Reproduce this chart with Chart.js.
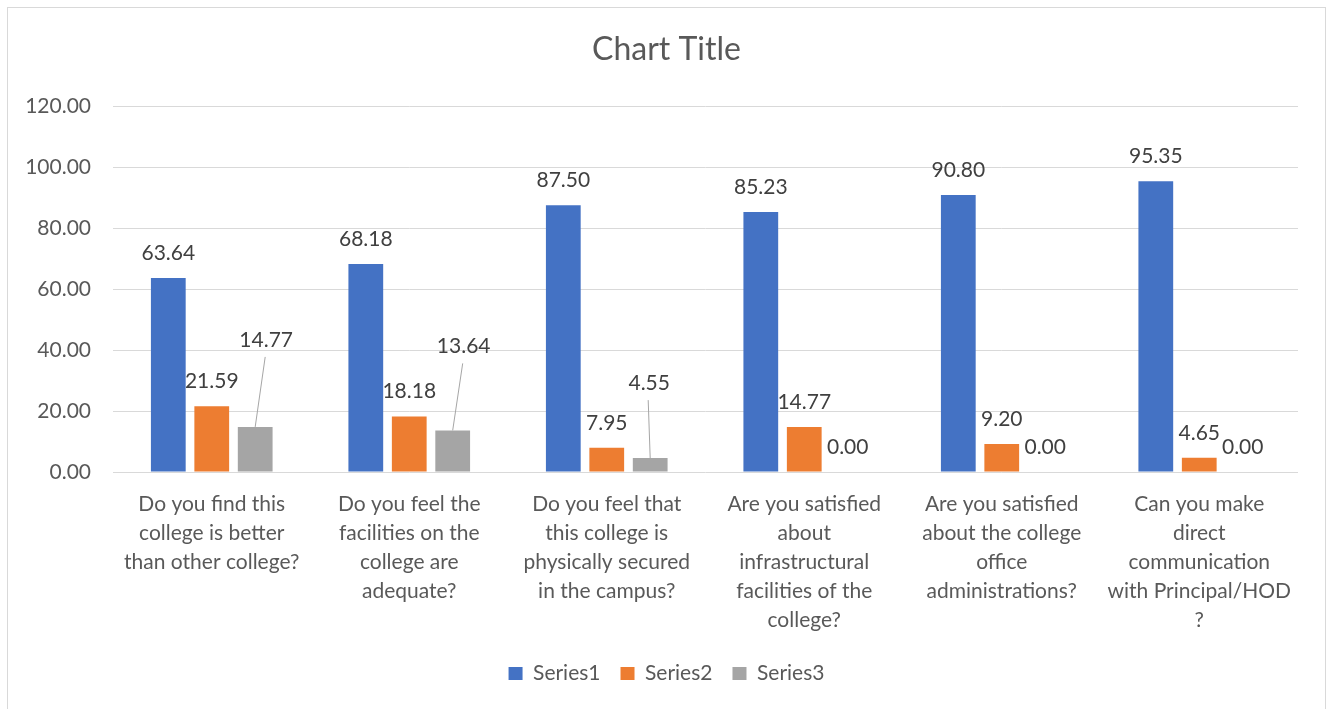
<!DOCTYPE html>
<html>
<head>
<meta charset="utf-8">
<script src="https://cdn.jsdelivr.net/npm/chart.js@4.4.1/dist/chart.umd.min.js"></script>
<style>
  html, body { margin: 0; padding: 0; background: #fff; }
  #wrap { width: 1333px; height: 709px; position: relative; }
</style>
</head>
<body>
<div id="wrap"><canvas id="chart"></canvas></div>
<script>
const categories = [
  ["Do you find this", "college is better", "than other college?"],
  ["Do you feel the", "facilities on the", "college are", "adequate?"],
  ["Do you feel that", "this college is", "physically secured", "in the campus?"],
  ["Are you satisfied", "about", "infrastructural", "facilities of the", "college?"],
  ["Are you satisfied", "about the college", "office", "administrations?"],
  ["Can you make", "direct", "communication", "with Principal/HOD", "?"]
];
const seriesNames = ["Series1", "Series2", "Series3"];
const series1 = [63.64, 68.18, 87.50, 85.23, 90.80, 95.35];
const series2 = [21.59, 18.18, 7.95, 14.77, 9.20, 4.65];
const series3 = [14.77, 13.64, 4.55, 0.00, 0.00, 0.00];
const yTicks = [0, 20, 40, 60, 80, 100, 120];
const chartTitle = "Chart Title";

const FONT = "Lato, 'Open Sans', sans-serif";

// draws value labels above bars, some pulled up with a leader line (as in the excel sheet)
const barLabels = {
  id: 'barLabels',
  afterDatasetsDraw(chart, args, opts) {
    const ctx = chart.ctx;
    ctx.save();
    ctx.font = opts.size + "px " + FONT;
    ctx.textAlign = 'center';
    ctx.textBaseline = 'middle';
    chart.data.datasets.forEach((ds, di) => {
      const meta = chart.getDatasetMeta(di);
      meta.data.forEach((bar, i) => {
        const moved = opts.moved.find(m => m.ds === di && m.i === i);
        let x = bar.x, y = bar.y - opts.gap;
        if (moved) {
          x += moved.dx; y += moved.dy;
          ctx.strokeStyle = '#a6a6a6';
          ctx.lineWidth = 1;
          ctx.beginPath();
          ctx.moveTo(x - 1, y + 17);
          ctx.lineTo(bar.x, bar.y);
          ctx.stroke();
        }
        ctx.fillStyle = '#404040';
        ctx.fillText(ds.data[i].toFixed(2), x, y);
      });
    });
    ctx.restore();
  }
};

// white background, thin outer border and the title centred on the whole page
const frame = {
  id: 'frame',
  afterLayout(chart) {
    // centre the legend on the page rather than on the padded area
    const shift = (chart.width - (chart.legend.left + chart.legend.right)) / 2;
    chart.legend.left += shift;
    chart.legend.right += shift;
  },
  beforeDraw(chart) {
    const ctx = chart.ctx;
    ctx.save();
    ctx.fillStyle = '#fff';
    ctx.fillRect(0, 0, chart.width, chart.height);
    ctx.strokeStyle = '#d9d9d9';
    ctx.lineWidth = 1;
    ctx.strokeRect(7.5, 7.5, 1318, 720);
    ctx.fillStyle = '#595959';
    ctx.font = "32px " + FONT;
    ctx.textAlign = 'center';
    ctx.textBaseline = 'middle';
    ctx.fillText(chartTitle, chart.width / 2, 50);
    ctx.restore();
  }
};

new Chart(document.getElementById('chart'), {
  type: 'bar',
  data: {
    labels: categories,
    datasets: [
      { label: seriesNames[0], data: series1, backgroundColor: '#4472C4' },
      { label: seriesNames[1], data: series2, backgroundColor: '#ED7D31' },
      { label: seriesNames[2], data: series3, backgroundColor: '#A5A5A5' }
    ]
  },
  options: {
    responsive: true,
    maintainAspectRatio: false,
    animation: false,
    categoryPercentage: 0.66,
    barPercentage: 0.8,
    layout: { padding: { left: 0, right: 35, top: 106, bottom: 15 } },
    scales: {
      x: {
        grid: { display: false, drawTicks: false },
        border: { display: false },
        ticks: {
          padding: 18,
          color: '#595959',
          maxRotation: 0,
          autoSkip: false,
          font: { family: FONT, size: 21, lineHeight: '29px' }
        },
        afterFit(scale) { scale.height = 171; }
      },
      y: {
        min: 0,
        max: 120,
        afterBuildTicks(scale) { scale.ticks = yTicks.map(v => ({ value: v })); },
        grid: { color: '#d9d9d9', drawTicks: false },
        border: { display: false },
        ticks: {
          padding: 22,
          color: '#595959',
          font: { family: FONT, size: 21 },
          callback: v => Number(v).toFixed(2)
        },
        afterFit(scale) { scale.width = 113; }
      }
    },
    plugins: {
      title: { display: false },
      legend: {
        position: 'bottom',
        labels: {
          color: '#595959',
          boxWidth: 14,
          boxHeight: 13,
          padding: 20,
          font: { family: FONT, size: 21 }
        }
      },
      tooltip: { enabled: false },
      barLabels: {
        size: 21,
        gap: 25,
        moved: [
          { ds: 2, i: 0, dx: 11, dy: -62 },
          { ds: 2, i: 1, dx: 11, dy: -59 },
          { ds: 2, i: 2, dx: -1, dy: -50 }
        ]
      }
    }
  },
  plugins: [frame, barLabels]
});
</script>
</body>
</html>
